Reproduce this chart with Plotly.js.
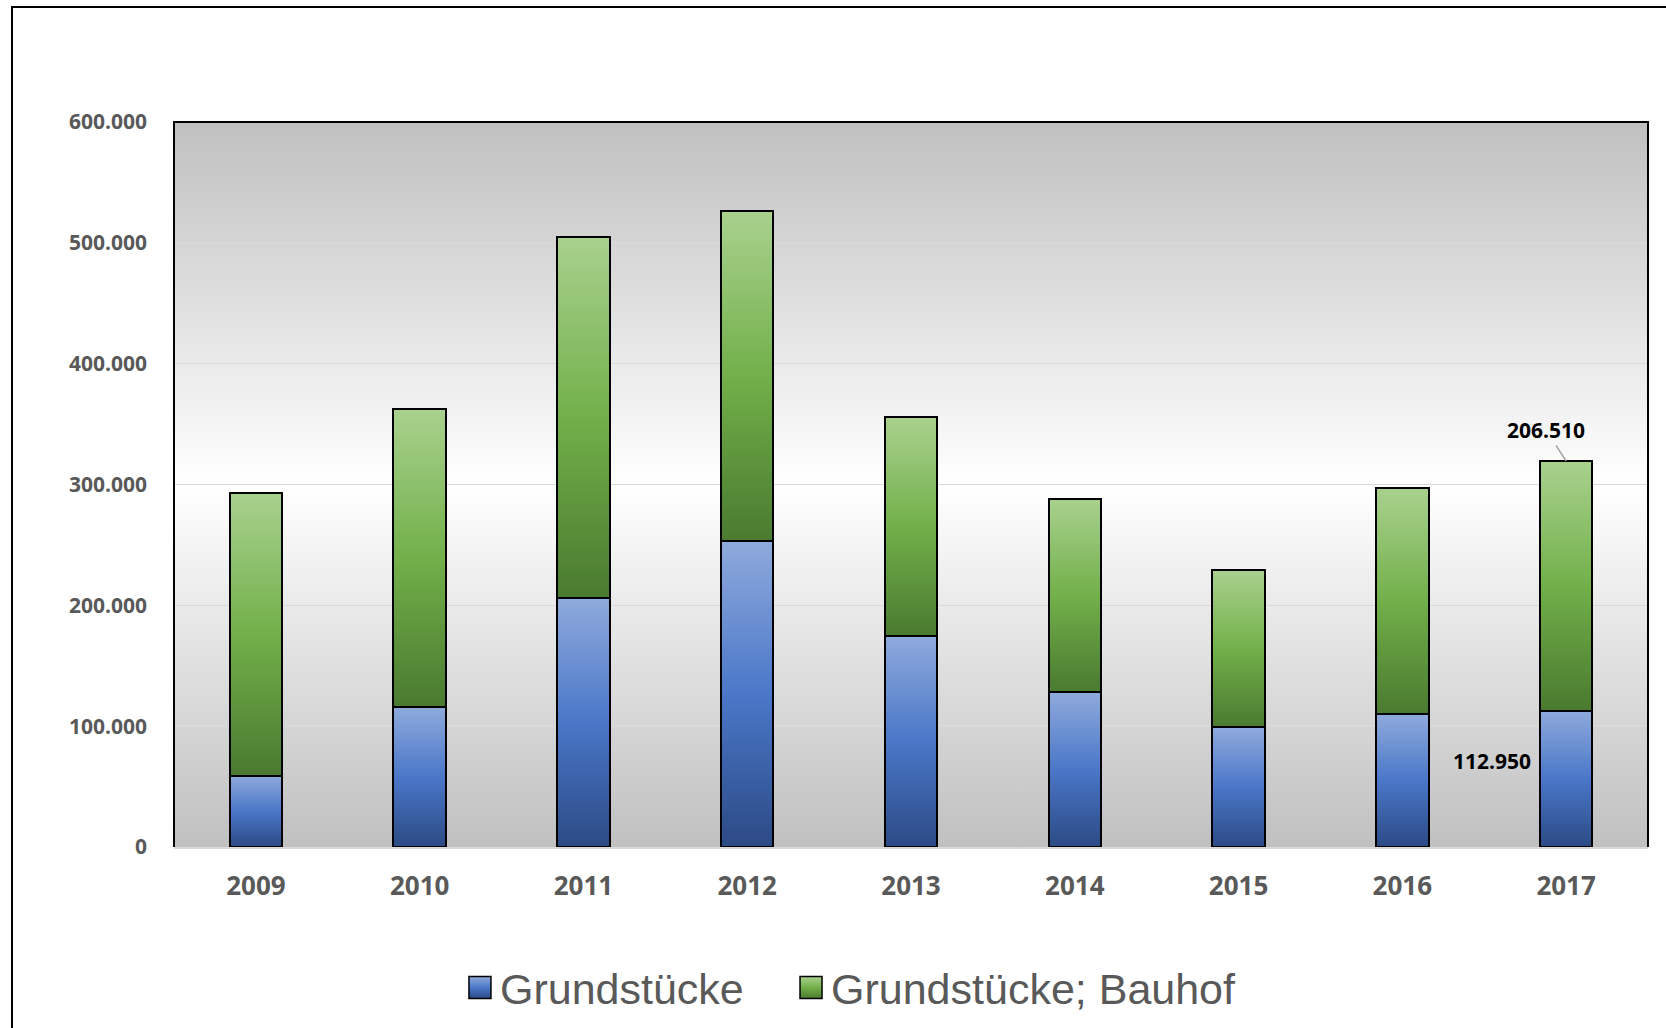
<!DOCTYPE html>
<html>
<head>
<meta charset="utf-8">
<script src="https://cdn.plot.ly/plotly-3.0.1.min.js"></script>
<style>
  html, body { margin: 0; padding: 0; background: #ffffff; overflow: hidden; }
  #chart { width: 1666px; height: 1028px; }
  #frame { position: absolute; left: 11px; top: 6px; width: 3000px; height: 3000px;
           border-top: 2px solid #000; border-left: 2px solid #000; pointer-events: none; }
</style>
</head>
<body>
<div id="chart"></div>
<div id="frame"></div>
<script>
// ---- data ----
const years = ["2009", "2010", "2011", "2012", "2013", "2014", "2015", "2016", "2017"];
const grundstuecke = [59000, 116000, 206000, 253000, 175000, 128000, 99000, 110000, 112950];
const grundstueckeBauhof = [234000, 246500, 299000, 273000, 181000, 160000, 130000, 187000, 206510];
const seriesNames = ["Grundstücke", "Grundstücke; Bauhof"];
const yTickValues = [0, 100000, 200000, 300000, 400000, 500000, 600000];

const last = years.length - 1;

const traces = [
  {
    type: "bar", name: seriesNames[0], x: years, y: grundstuecke,
    width: 0.32, legend: "legend",
    marker: { color: "#4a77c8", line: { color: "#000000", width: 2 } },
    hoverinfo: "skip"
  },
  {
    type: "bar", name: seriesNames[1], x: years, y: grundstueckeBauhof,
    width: 0.32, legend: "legend2",
    marker: { color: "#70ad47", line: { color: "#000000", width: 2 } },
    hoverinfo: "skip"
  }
];

const fmt = v => v.toLocaleString("de-DE");

const legendFont = { family: "Liberation Sans, Arial, sans-serif", size: 43, color: "#595959" };

const layout = {
  width: 1666, height: 1028,
  margin: { l: 174, r: 18, t: 122, b: 181, autoexpand: false },
  barmode: "stack",
  separators: ",.",
  paper_bgcolor: "#ffffff",
  plot_bgcolor: "#e0e0e0",
  showlegend: true,
  legend: {
    orientation: "h", traceorder: "normal",
    x: 0.194, xanchor: "left", y: -0.194, yanchor: "middle",
    font: legendFont,
    bgcolor: "rgba(0,0,0,0)", itemclick: false, itemdoubleclick: false
  },
  legend2: {
    orientation: "h", traceorder: "normal",
    x: 0.4186, xanchor: "left", y: -0.194, yanchor: "middle",
    font: legendFont,
    bgcolor: "rgba(0,0,0,0)", itemclick: false, itemdoubleclick: false
  },
  xaxis: {
    type: "category",
    categoryorder: "array", categoryarray: years,
    range: [-0.5, last + 0.5],
    showgrid: false,
    showline: true, linecolor: "#d9d9d9", linewidth: 2,
    ticks: "", ticklabelstandoff: 15,
    tickfont: { family: "Open Sans, sans-serif", size: 26, color: "#595959", weight: "bold" },
    fixedrange: true
  },
  yaxis: {
    range: [0, 600000],
    tickvals: yTickValues,
    tickformat: ",d",
    showgrid: true, gridcolor: "#d9d9d9", gridwidth: 1.5,
    zeroline: false,
    showline: false,
    ticks: "", ticklabelstandoff: 26,
    tickfont: { family: "Open Sans, sans-serif", size: 21, color: "#595959", weight: "bold" },
    fixedrange: true
  },
  shapes: [
    { type: "path", xref: "paper", yref: "paper", path: "M0,0 L0,1 L1,1 L1,0",
      line: { color: "#000000", width: 2 }, layer: "above" }
  ],
  annotations: [
    {
      x: last, y: grundstuecke[last] + grundstueckeBauhof[last],
      xref: "x", yref: "y",
      text: fmt(grundstueckeBauhof[last]),
      showarrow: true, arrowhead: 0, arrowwidth: 1.5, arrowcolor: "#a6a6a6",
      ax: -20, ay: -31, standoff: 0,
      font: { family: "Open Sans, sans-serif", size: 21, color: "#000000", weight: "bold" }
    },
    {
      x: last, y: grundstuecke[last] / 2,
      xref: "x", yref: "y",
      text: fmt(grundstuecke[last]),
      showarrow: false, xshift: -74, yshift: 18,
      font: { family: "Open Sans, sans-serif", size: 21, color: "#000000", weight: "bold" }
    }
  ]
};

function addGradients() {
  const gd = document.getElementById("chart");
  const svg = gd.querySelector("svg.main-svg");
  const ns = "http://www.w3.org/2000/svg";
  let defs = svg.querySelector("defs");
  if (!defs) { defs = document.createElementNS(ns, "defs"); svg.insertBefore(defs, svg.firstChild); }
  function grad(id, stops) {
    const g = document.createElementNS(ns, "linearGradient");
    g.setAttribute("id", id);
    g.setAttribute("x1", "0"); g.setAttribute("y1", "0");
    g.setAttribute("x2", "0"); g.setAttribute("y2", "1");
    stops.forEach(s => {
      const st = document.createElementNS(ns, "stop");
      st.setAttribute("offset", s[0]);
      st.setAttribute("stop-color", s[1]);
      g.appendChild(st);
    });
    defs.appendChild(g);
  }
  grad("gBlue", [["0", "#8faadc"], ["0.5", "#4a77c8"], ["1", "#2c4a85"]]);
  grad("gGreen", [["0", "#a9d18e"], ["0.5", "#72b04a"], ["1", "#4a7a2f"]]);
  grad("gBg", [["0", "#c0c0c0"], ["0.5", "#ffffff"], ["1", "#c0c0c0"]]);

  const bg = svg.querySelector(".bglayer rect.bg");
  if (bg) bg.style.fill = "url(#gBg)";

  const ids = ["url(#gBlue)", "url(#gGreen)"];
  gd.querySelectorAll(".barlayer .trace.bars").forEach((tr, i) => {
    tr.querySelectorAll(".point path").forEach(p => { p.style.fill = ids[i]; });
  });
  [".legend", ".legend2"].forEach((sel, i) => {
    const lg = gd.querySelector(sel);
    if (!lg) return;
    lg.querySelectorAll(".legendpoints path").forEach(p => {
      p.setAttribute("d", "M11,11H-11V-11H11Z");
      p.style.fill = ids[i];
      p.style.stroke = "#000";
      p.style.strokeWidth = "1.5px";
    });
  });
}

Plotly.newPlot("chart", traces, layout, { displayModeBar: false, staticPlot: true, responsive: false })
  .then(addGradients);
</script>
</body>
</html>
